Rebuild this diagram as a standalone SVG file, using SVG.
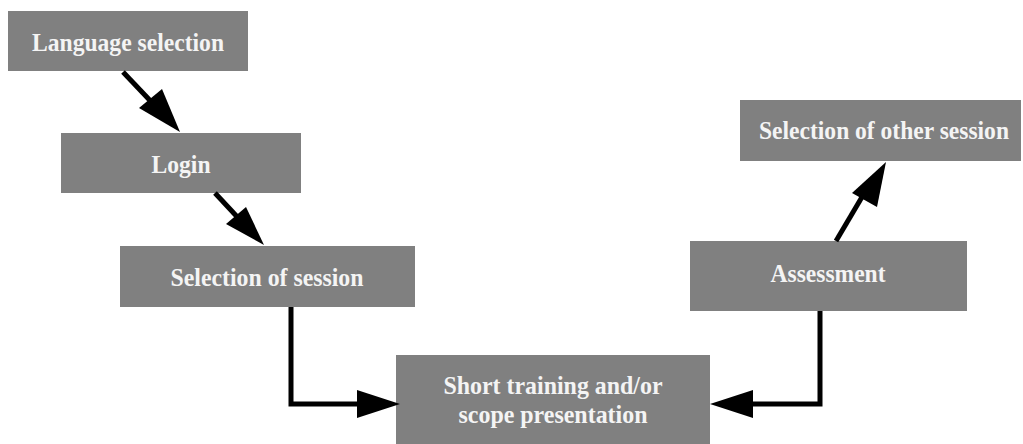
<svg xmlns="http://www.w3.org/2000/svg" width="1023" height="444" viewBox="0 0 1023 444">
  <defs>
    <style>
      .box { fill: #808080; }
      .label { font-family: "Liberation Serif", "Times New Roman", serif; font-weight: bold; font-size: 26px; fill: #f4f4f4; text-anchor: middle; }
      .wire { fill: none; stroke: #000; stroke-width: 5; }
      .head { fill: #000; }
    </style>
  </defs>
  <rect width="1023" height="444" fill="#fff"/>

  <g id="node-language">
    <rect class="box" x="8" y="11" width="240" height="60"/>
    <text class="label" x="128" y="51" textLength="192" lengthAdjust="spacingAndGlyphs">Language selection</text>
  </g>
  <g id="node-login">
    <rect class="box" x="61" y="133" width="240" height="60"/>
    <text class="label" x="181" y="173" textLength="59" lengthAdjust="spacingAndGlyphs">Login</text>
  </g>
  <g id="node-session">
    <rect class="box" x="120" y="246" width="295" height="61"/>
    <text class="label" x="267" y="286" textLength="193" lengthAdjust="spacingAndGlyphs">Selection of session</text>
  </g>
  <g id="node-training">
    <rect class="box" x="396" y="355" width="314" height="89"/>
    <text class="label" x="553" y="394" textLength="219" lengthAdjust="spacingAndGlyphs">Short training and/or</text>
    <text class="label" x="553" y="423" textLength="189" lengthAdjust="spacingAndGlyphs">scope presentation</text>
  </g>
  <g id="node-assessment">
    <rect class="box" x="690" y="241" width="277" height="70"/>
    <text class="label" x="828" y="282" textLength="115" lengthAdjust="spacingAndGlyphs">Assessment</text>
  </g>
  <g id="node-other">
    <rect class="box" x="740" y="100" width="281" height="61"/>
    <text class="label" x="884" y="139" font-size="24" textLength="250" lengthAdjust="spacingAndGlyphs">Selection of other session</text>
  </g>

  <g id="connectors">
    <!-- Language selection to Login -->
    <path class="wire" d="M123,72 L160,111"/>
    <polygon class="head" points="180,132 139,108 162,89"/>
    <!-- Login to Selection of session -->
    <path class="wire" d="M215,193 L242,222"/>
    <polygon class="head" points="264,245 226,224 246,207"/>
    <!-- Selection of session to training -->
    <path class="wire" d="M291,307 L291,404 L360,404"/>
    <polygon class="head" points="400,404 357,390 357,418"/>
    <!-- Assessment back to training -->
    <path class="wire" d="M820,311 L820,404 L750,404"/>
    <polygon class="head" points="710,404 753,390 753,418"/>
    <!-- Assessment to Selection of other session -->
    <path class="wire" d="M836,241 L862,197"/>
    <polygon class="head" points="886,162 852,193 877,207"/>
  </g>
</svg>
